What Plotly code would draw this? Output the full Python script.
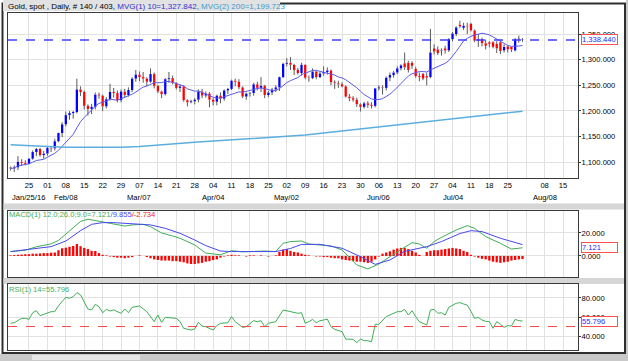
import plotly.graph_objects as go
import pandas as pd

# ---------------- data ----------------
day_idx = list(range(140))  # trading days from Jan/18/16 to Jul/29/16

opens = [1090, 1088, 1090, 1101, 1099, 1097, 1107, 1120, 1126, 1114,
         1117, 1128, 1127, 1141, 1157, 1174, 1192, 1196, 1198, 1242,
         1237, 1210, 1204, 1208, 1232, 1230, 1209, 1223, 1237, 1235,
         1221, 1238, 1231, 1241, 1263, 1271, 1266, 1263, 1257, 1272,
         1249, 1238, 1233, 1262, 1264, 1255, 1245, 1248, 1221, 1217,
         1219, 1222, 1238, 1230, 1234, 1222, 1218, 1230, 1224, 1240,
         1243, 1259, 1257, 1246, 1228, 1234, 1235, 1252, 1245, 1249,
         1231, 1236, 1242, 1246, 1266, 1292, 1294, 1290, 1280, 1274,
         1290, 1265, 1264, 1277, 1266, 1273, 1276, 1279, 1256, 1254,
         1252, 1248, 1228, 1225, 1222, 1213, 1208, 1215, 1212, 1210,
         1244, 1246, 1245, 1265, 1270, 1275, 1283, 1293, 1294, 1294,
         1282, 1268, 1272, 1268, 1266, 1322, 1320, 1317, 1322, 1318,
         1340, 1350, 1368, 1362, 1366, 1370, 1357, 1337, 1340, 1332,
         1334, 1334, 1331, 1334, 1318, 1326, 1325, 1318, 1340, 1339]
closes = [1088, 1090, 1101, 1099, 1097, 1107, 1120, 1126, 1114, 1117,
          1128, 1127, 1141, 1157, 1174, 1192, 1196, 1198, 1242, 1237,
          1210, 1204, 1208, 1232, 1230, 1209, 1223, 1237, 1235, 1221,
          1238, 1231, 1241, 1263, 1271, 1266, 1263, 1257, 1272, 1249,
          1238, 1233, 1262, 1264, 1255, 1245, 1248, 1221, 1217, 1219,
          1222, 1238, 1230, 1234, 1222, 1218, 1230, 1224, 1240, 1243,
          1259, 1257, 1246, 1228, 1234, 1235, 1252, 1245, 1249, 1231,
          1236, 1242, 1246, 1266, 1292, 1294, 1290, 1280, 1274, 1290,
          1265, 1264, 1277, 1266, 1273, 1276, 1279, 1256, 1254, 1252,
          1248, 1228, 1225, 1222, 1213, 1208, 1215, 1212, 1210, 1244,
          1246, 1245, 1265, 1270, 1275, 1283, 1289, 1285, 1280, 1288,
          1268, 1266, 1263, 1265, 1314, 1316, 1313, 1318, 1318, 1340,
          1351, 1363, 1365, 1366, 1365, 1357, 1337, 1340, 1332, 1327,
          1331, 1325, 1322, 1317, 1325, 1320, 1320, 1340, 1340, 1338.44]
highs = [1092, 1094, 1112, 1106, 1104, 1108, 1123, 1128, 1128, 1122,
         1130, 1131, 1146, 1158, 1178, 1199, 1200, 1200, 1263, 1248,
         1240, 1213, 1214, 1236, 1236, 1232, 1227, 1253, 1245, 1240,
         1242, 1243, 1246, 1266, 1280, 1277, 1276, 1266, 1283, 1275,
         1251, 1240, 1264, 1276, 1269, 1256, 1252, 1250, 1223, 1222,
         1225, 1242, 1243, 1238, 1237, 1225, 1232, 1236, 1242, 1245,
         1261, 1263, 1262, 1248, 1236, 1237, 1255, 1257, 1266, 1251,
         1239, 1245, 1250, 1267, 1294, 1303, 1305, 1292, 1284, 1294,
         1291, 1269, 1283, 1279, 1277, 1287, 1285, 1281, 1260, 1259,
         1256, 1250, 1233, 1229, 1226, 1215, 1218, 1219, 1217, 1245,
         1250, 1250, 1267, 1275, 1278, 1287, 1291, 1314, 1298, 1297,
         1286, 1275, 1274, 1275, 1360, 1330, 1326, 1322, 1327, 1342,
         1354, 1365, 1376, 1372, 1372, 1372, 1359, 1350, 1343, 1339,
         1336, 1336, 1336, 1337, 1330, 1328, 1325, 1342, 1347, 1342]
lows = [1084, 1081, 1085, 1093, 1094, 1096, 1105, 1112, 1111, 1107,
        1113, 1120, 1123, 1139, 1149, 1170, 1183, 1185, 1195, 1229,
        1203, 1191, 1194, 1203, 1224, 1200, 1205, 1220, 1226, 1217,
        1217, 1226, 1228, 1237, 1257, 1258, 1255, 1248, 1255, 1244,
        1235, 1225, 1230, 1255, 1252, 1242, 1237, 1218, 1209, 1215,
        1213, 1217, 1225, 1226, 1207, 1211, 1211, 1215, 1220, 1233,
        1241, 1248, 1242, 1225, 1222, 1228, 1230, 1240, 1237, 1225,
        1227, 1231, 1237, 1239, 1264, 1287, 1280, 1270, 1271, 1269,
        1262, 1257, 1262, 1262, 1264, 1269, 1271, 1250, 1243, 1245,
        1246, 1226, 1219, 1218, 1208, 1199, 1205, 1206, 1205, 1207,
        1240, 1232, 1240, 1258, 1265, 1272, 1279, 1280, 1275, 1282,
        1265, 1258, 1260, 1250, 1264, 1310, 1309, 1308, 1312, 1315,
        1336, 1346, 1362, 1358, 1350, 1355, 1334, 1325, 1326, 1320,
        1324, 1322, 1313, 1311, 1314, 1314, 1315, 1316, 1333, 1335]

# 200-day moving average (weekly)
ma200_idx = [0, 5, 10, 15, 20, 25, 30, 35, 40, 45, 50, 55, 60, 65, 70, 75, 80,
             85, 90, 95, 100, 105, 110, 115, 120, 125, 130, 135, 139]
ma200_val = [1134, 1133, 1131, 1129.5, 1129, 1129, 1129.5, 1131, 1134, 1136.5,
             1139, 1141.5, 1144, 1146, 1148.5, 1150.5, 1153, 1157, 1161, 1164.5,
             1168.5, 1172.5, 1177, 1180.5, 1184.5, 1188.5, 1192.5, 1196.5, 1199.723]

# MACD (12,26,9)
macd_idx = [0, 4, 7, 11, 13, 15, 17, 19, 21, 24, 28, 31, 33, 36, 38, 41, 44, 46, 50,
            53, 57, 60, 63, 66, 69, 72, 74, 76, 79, 81, 84, 87, 90, 94, 97, 100,
            103, 106, 109, 111, 113, 115, 117, 121, 124, 126, 129, 133, 136, 139]
macd_val = [3.8, 5.0, 8.0, 10.5, 13.5, 19, 24, 30, 32, 30, 27.5, 26, 27, 27.5, 25.5,
            20, 17.4, 15.4, 9.6, 2.5, 1.0, 4.6, 3.6, 4.0, 4.3, 3.8, 11, 12.5, 13,
            10.4, 9.6, 8.7, 5.2, -7.8, -11.3, -7, -0.6, 5.2, 11.6, 10.4, 6.7, 12.5,
            16.2, 22.6, 26.4, 24, 16.8, 11, 6, 7.121]
sig_idx = [0, 6, 11, 15, 19, 22, 25, 28, 33, 38, 42, 46, 50, 53, 57, 60, 66, 72,
           76, 79, 84, 90, 95, 99, 103, 107, 113, 117, 122, 125, 128, 133, 139]
sig_val = [3.8, 6.0, 8.1, 13, 22, 27.5, 29, 29, 27.8, 27, 24, 19.7, 13.9, 9, 4.3,
           3.8, 3.8, 3.8, 6.5, 10, 10.1, 6.7, -0.6, -7.3, -3.5, 4.0, 8.1, 12.5,
           19.5, 22, 21.2, 15.4, 9.855]
hist_val = [0.5, 0.8, 1.0, 1.2, 1.5, 1.5, 2, 2, 2.2, 2.5, 2.5, 2.8, 3,
            5, 6.7, 7.2, 8, 8.7, 10.4, 8.5,
            7, 6, 4.5, 4.3, 2.5, 1, 0.5, -0.5, -1, -1.5,
            -1.5, -2, -1.5, -1, 0, 0.5, 0, -1, -2, -3,
            -3.5, -4, -4, -4, -4.5, -4.5, -5, -5.5, -6.5, -7,
            -7, -6.5, -6, -5, -4.5, -3.5, -3, -1.5, -0.5, 0.5,
            1, 0.5, 0.5, 0, -0.5, 0.5, 0.5, 0, 0.5, 0,
            -0.5, 0, 0.5, 3.5, 5.5, 6, 4.5, 3.5, 3, 2,
            1, 0.5, 0, -0.5, -0.5, -1, -1, -1.5, -2, -2,
            -3, -3.5, -4, -4.5, -5, -5, -5.5, -6, -5, -3,
            -0.5, 2, 3, 4, 5.5, 6.5, 7, 7, 6, 4.5,
            3, 1, 0, 3.5, 4.5, 5, 5, 5.5, 6, 6.5,
            7, 6.5, 6, 4.5, 3.5, 1, -0.5, -1.5, -2.5, -3,
            -4, -5, -5.5, -6, -5.5, -5, -4, -3.5, -3, -2.734]

# RSI(14)
rsi_idx = [0, 1, 3, 4, 5, 6, 7, 8, 11, 12, 13, 15, 16, 17, 18, 19, 21, 22, 23, 24,
           25, 26, 27, 28, 30, 31, 32, 33, 35, 37, 39, 40, 41, 42, 45, 46, 47, 49,
           50, 51, 52, 53, 55, 56, 57, 59, 60, 61, 63, 64, 66, 67, 68, 69, 70, 72,
           74, 76, 78, 79, 80, 81, 82, 83, 84, 85, 86, 87, 88, 90, 91, 93, 94, 95,
           96, 97, 98, 99, 100, 102, 103, 105, 106, 107, 108, 109, 110, 111, 112,
           113, 114, 115, 116, 117, 118, 119, 121, 122, 123, 124, 125, 126, 127,
           128, 129, 130, 131, 132, 133, 134, 135, 136, 137, 138, 139]
rsi_val = [53.4, 54, 58.6, 58.6, 57.5, 64.5, 66.6, 61.4, 65.6, 65.6, 71.9, 80.7,
           79.7, 81.4, 85.6, 83.2, 68.4, 67.4, 73.3, 70.9, 64.5, 68, 66.3, 67.4,
           63.9, 68.4, 64.5, 70.2, 71.6, 65.6, 55.1, 62.1, 54.4, 59.6, 58.6, 55.1,
           48.1, 46.3, 47.4, 54.4, 50.5, 49.8, 46.3, 50.9, 53.4, 54, 60.4, 55.1,
           49.1, 49.8, 56.1, 55.1, 56.1, 49.8, 53.4, 55.1, 67.4, 65.6, 63.9, 64.5,
           53.4, 55.1, 57.5, 54, 56.1, 56.8, 57.8, 49.8, 47, 44.6, 36.8, 36.5, 33,
           36.8, 35.1, 35, 34, 52.3, 52.3, 60.4, 62.1, 65.6, 65.6, 68, 62.1, 66.6,
           60.4, 55, 53.4, 51.6, 67.4, 68, 63.9, 64.5, 62, 70.2, 74.4, 75.1, 73.7,
           72.5, 66, 58.6, 59.6, 56.8, 55.5, 55.1, 48.1, 55.1, 52.3, 49.1, 50.9,
           50.5, 57.5, 56.1, 55.796]

# axis ticks
week_idx = [5, 10, 15, 20, 25, 30, 35, 40, 45, 50, 55, 60, 65, 70, 75, 80, 85, 90,
            95, 100, 105, 110, 115, 120, 125, 130, 135, 140, 145, 150]
week_labels = ["25", "01", "08", "15", "22", "29", "07", "14", "21", "28", "04", "11",
               "18", "25", "02", "09", "16", "23", "30", "06", "13", "20", "27", "04",
               "11", "18", "25", "", "08", "15"]
month_idx = [5, 15, 35, 55, 75, 100, 120, 145]
month_labels = ["Jan/25/16", "Feb/08", "Mar/07", "Apr/04", "May/02", "Jun/06",
                "Jul/04", "Aug/08"]
price_ticks = [1100, 1150, 1200, 1250, 1300, 1350]
macd_ticks = [0, 20]
rsi_ticks = [40, 60, 80]
rsi_level = 50

title_parts = ["Gold, spot , Daily, # 140 / 403, ", "MVG(1) 10=1,327.842", ", ",
               "MVG(2) 200=1,199.723"]

# ---------------- derived ----------------
last_close = closes[-1]
ma10 = pd.Series(closes).rolling(10, min_periods=1).mean()

wick_x, wick_y = [], []
body_b, body_h, body_c = [], [], []
for i, o, h, l, c in zip(day_idx, opens, highs, lows, closes):
    top, bot = max(o, c), min(o, c)
    wick_x += [i, i, None, i, i, None]
    wick_y += [h, top, None, bot, l, None]
    body_b.append(bot)
    body_h.append(max(top - bot, 1.0))
    body_c.append('#0000ff' if c >= o else '#ff0000')

# ---------------- geometry helpers ----------------
W, H = 628, 361
ML, MR, MT, MB = 8, 50, 13, 11
PW, PH = W - ML - MR, H - MT - MB


def px(xp):
    return (xp - ML) / PW


def py(yp):
    return (H - MB - yp) / PH


FONT = "Liberation Sans, Arial, sans-serif"
GRID = '#e1e1e1'
LINE = '#3a3a3a'

fig = go.Figure()
fig.add_trace(go.Scatter(x=wick_x, y=wick_y, mode='lines',
                         line=dict(color='#5a5a5a', width=1), xaxis='x', yaxis='y'))
fig.add_trace(go.Bar(x=day_idx, y=body_h, base=body_b, width=0.62,
                     marker=dict(color=body_c, line=dict(width=0)), xaxis='x', yaxis='y'))
fig.add_trace(go.Scatter(x=day_idx, y=ma10, mode='lines',
                         line=dict(color='#5b5be8', width=1), xaxis='x', yaxis='y'))
fig.add_trace(go.Scatter(x=ma200_idx, y=ma200_val, mode='lines',
                         line=dict(color='#5aaee0', width=1.5), xaxis='x', yaxis='y'))
fig.add_trace(go.Bar(x=day_idx, y=hist_val, width=0.62,
                     marker=dict(color='#ff0000', line=dict(width=0)), xaxis='x2', yaxis='y2'))
fig.add_trace(go.Scatter(x=macd_idx, y=macd_val, mode='lines',
                         line=dict(color='#3fae55', width=1), xaxis='x2', yaxis='y2'))
fig.add_trace(go.Scatter(x=sig_idx, y=sig_val, mode='lines',
                         line=dict(color='#4848f0', width=1), xaxis='x2', yaxis='y2'))
fig.add_trace(go.Scatter(x=rsi_idx, y=rsi_val, mode='lines',
                         line=dict(color='#3fae55', width=1), xaxis='x3', yaxis='y3'))

xr = [-0.7, 154.07]
tickfont = dict(family=FONT, size=7.6, color='#000000')
xcommon = dict(range=xr, tickvals=week_idx, showgrid=True, gridcolor=GRID, gridwidth=1,
               showline=True, mirror=True, linecolor=LINE, linewidth=1, zeroline=False,
               fixedrange=True, automargin=False)
ycommon = dict(side='right', showgrid=True, gridcolor=GRID, gridwidth=1, showline=True,
               mirror=True, linecolor=LINE, linewidth=1, zeroline=False, ticks='outside',
               ticklen=2, tickcolor=LINE, tickfont=tickfont, ticklabelstandoff=-1,
               automargin=False, fixedrange=True)

fig.update_layout(
    width=W, height=H, margin=dict(l=ML, r=MR, t=MT, b=MB),
    paper_bgcolor='#ffffff', plot_bgcolor='#ffffff', showlegend=False,
    barmode='overlay', hovermode=False,
    font=dict(family=FONT, size=8, color='#000000'),
    xaxis=dict(domain=[0, 1], anchor='y', ticktext=week_labels, tickfont=tickfont,
               ticks='', ticklen=0, **xcommon),
    xaxis2=dict(domain=[0, 1], anchor='y2', showticklabels=False, matches='x', **xcommon),
    xaxis3=dict(domain=[0, 1], anchor='y3', showticklabels=False, matches='x', **xcommon),
    yaxis=dict(domain=[py(178), py(13)], anchor='x', range=[1069.4, 1391.0],
               tickvals=price_ticks, tickformat=',.3f', **ycommon),
    yaxis2=dict(domain=[py(277), py(211)], anchor='x2', range=[-18.3, 39.1],
                tickvals=macd_ticks, tickformat='.3f', **ycommon),
    yaxis3=dict(domain=[py(350), py(284)], anchor='x3', range=[25.3, 94.7],
                tickvals=rsi_ticks, tickformat='.3f', **ycommon),
)

shapes = []
# outer window frame and chrome
shapes.append(dict(type='rect', xref='paper', yref='paper', x0=px(2.5), x1=px(625),
                   y0=py(353), y1=py(3.5), line=dict(color='#2e2e2e', width=2),
                   fillcolor='rgba(0,0,0,0)', layer='below'))
shapes.append(dict(type='rect', xref='paper', yref='paper', x0=px(0), x1=px(628),
                   y0=py(361), y1=py(354), line=dict(width=0), fillcolor='#c9c9c9',
                   layer='below'))
shapes.append(dict(type='rect', xref='paper', yref='paper', x0=px(32), x1=px(140),
                   y0=py(360), y1=py(355), line=dict(width=0), fillcolor='#e6e6e6',
                   layer='below'))
shapes.append(dict(type='rect', xref='paper', yref='paper', x0=px(626), x1=px(628),
                   y0=py(361), y1=py(0), line=dict(width=0), fillcolor='#c9c9c9',
                   layer='below'))
shapes.append(dict(type='rect', xref='paper', yref='paper', x0=px(3), x1=px(280),
                   y0=py(11), y1=py(0), line=dict(width=0), fillcolor='#e2e2e2',
                   layer='below'))
for y0, y1 in [(203.5, 209.5), (278, 284)]:
    shapes.append(dict(type='rect', xref='paper', yref='paper', x0=px(3.5), x1=px(624),
                       y0=py(y1), y1=py(y0), line=dict(width=0), fillcolor='#d6d6d6',
                       layer='below'))
# reference lines
shapes.append(dict(type='line', xref='x domain', yref='y', x0=0, x1=1, y0=last_close,
                   y1=last_close, line=dict(color='#4040ff', width=1.5, dash='dash')))
shapes.append(dict(type='line', xref='x3 domain', yref='y3', x0=0, x1=1, y0=rsi_level,
                   y1=rsi_level, line=dict(color='#ff4a4a', width=1.2, dash='dash')))
fig.update_layout(shapes=shapes)

ann = []
title_html = ('<span style="color:#000000">%s</span><span style="color:#2f2fd0">%s</span>'
              '<span style="color:#2f2fd0">%s</span><span style="color:#3a9ad0">%s</span>'
              % tuple(title_parts))
ann.append(dict(xref='paper', yref='paper', x=px(6), y=py(6), xanchor='left',
                yanchor='middle', text=title_html, showarrow=False,
                font=dict(family=FONT, size=8)))
for i, lab in zip(month_idx, month_labels):
    ann.append(dict(xref='x', yref='paper', x=i, y=py(197), xanchor='center',
                    yanchor='middle', text=lab, showarrow=False,
                    font=dict(family=FONT, size=7.6, color='#000000')))
macd_txt = ('<span style="color:#3fae55">MACD(1) 12.0;26.0;9.0=%.3f</span>'
            '<span style="color:#4848f0">/%.3f</span><span style="color:#ff2020">/%.3f</span>'
            % (macd_val[-1], sig_val[-1], hist_val[-1]))
ann.append(dict(xref='paper', yref='paper', x=px(7), y=py(214.5), xanchor='left',
                yanchor='middle', text=macd_txt, showarrow=False,
                font=dict(family=FONT, size=7.6)))
ann.append(dict(xref='paper', yref='paper', x=px(7), y=py(289), xanchor='left',
                yanchor='middle', text='RSI(1) 14=%.3f' % rsi_val[-1], showarrow=False,
                font=dict(family=FONT, size=7.6, color='#3fae55')))
for yref, val, txt in [('y', last_close, '{:,.3f}'.format(last_close)),
                       ('y2', macd_val[-1], '%.3f' % macd_val[-1]),
                       ('y3', rsi_val[-1], '%.3f' % rsi_val[-1])]:
    ann.append(dict(xref='paper', yref=yref, x=px(581), y=val, xanchor='left',
                    yanchor='middle', text=txt, showarrow=False, align='left', width=35,
                    bgcolor='#ffffff', bordercolor='#ff5050', borderwidth=1, borderpad=0,
                    font=dict(family=FONT, size=7.6, color='#2a2aff')))
fig.update_layout(annotations=ann)

fig.write_html("out.html",
               config={'displayModeBar': False, 'staticPlot': True},
               post_script="document.body.style.margin='0';document.body.style.padding='0';"
                           "document.body.style.overflow='hidden';")
